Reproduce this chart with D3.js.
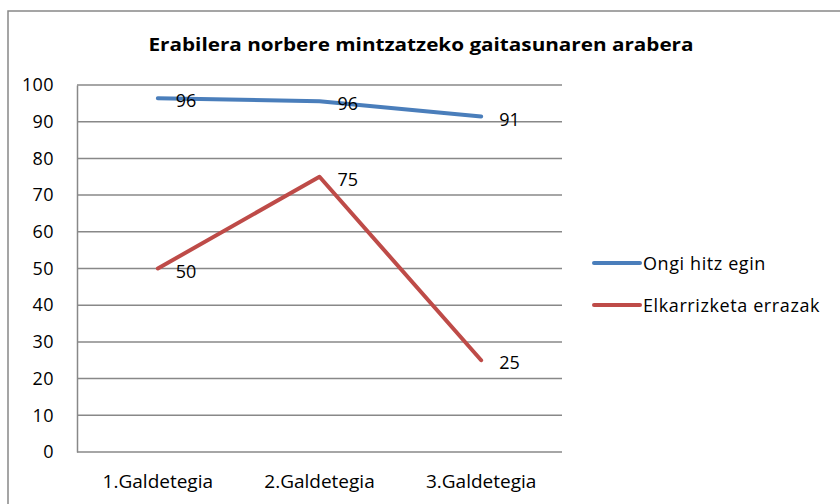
<!DOCTYPE html>
<html>
<head>
<meta charset="utf-8">
<script src="https://cdn.jsdelivr.net/npm/d3@7"></script>
<style>
html,body{margin:0;padding:0;background:#fff;}
svg{display:block;font-family:"Open Sans","Liberation Sans",sans-serif;}
</style>
</head>
<body>
<svg id="chart" width="840" height="504"></svg>
<script>
const title = "Erabilera norbere mintzatzeko gaitasunaren arabera";
const categories = ["1.Galdetegia", "2.Galdetegia", "3.Galdetegia"];
const seriesNames = ["Ongi hitz egin", "Elkarrizketa errazak"];
const ongiValues = [96.4, 95.6, 91.4];
const elkarValues = [50, 75, 25];
const seriesColors = ["#4a7ebb", "#be4b48"];
const yTicks = [0, 10, 20, 30, 40, 50, 60, 70, 80, 90, 100];

const series = [
  {name: seriesNames[0], values: ongiValues, color: seriesColors[0]},
  {name: seriesNames[1], values: elkarValues, color: seriesColors[1]}
];

const svg = d3.select("#chart");
const m = {left: 77, right: 562, top: 85, bottom: 452};
const FONT = "'Open Sans','Liberation Sans',sans-serif";

// outer border
svg.append("rect").attr("x", 8).attr("y", 11).attr("width", 840).attr("height", 520)
  .attr("fill", "none").attr("stroke", "#888").attr("stroke-width", 1.5);

// title
svg.append("text").attr("x", 421).attr("y", 51).attr("text-anchor", "middle")
  .attr("font-size", 18).attr("font-weight", "bold").attr("fill", "#000")
  .attr("textLength", 545).attr("lengthAdjust", "spacingAndGlyphs")
  .text(title);

const x = d3.scaleBand().domain(categories).range([m.left, m.right]);
const y = d3.scaleLinear().domain([0, 100]).range([m.bottom, m.top]);

// gridlines
svg.append("g").selectAll("line").data(yTicks).join("line")
  .attr("x1", m.left).attr("x2", m.right)
  .attr("y1", d => y(d)).attr("y2", d => y(d))
  .attr("stroke", "#888").attr("stroke-width", 1.5);

// y axis
const yAxis = svg.append("g").attr("transform", `translate(${m.left},0)`)
  .call(d3.axisLeft(y).tickValues(yTicks).tickSize(0).tickPadding(23));
yAxis.select(".domain").attr("stroke", "#888").attr("stroke-width", 1.5);
yAxis.selectAll("text").attr("font-size", 18).attr("fill", "#000")
  .attr("letter-spacing", 0.4).attr("font-family", FONT);

// x axis
const xAxis = svg.append("g").attr("transform", `translate(0,${m.bottom})`)
  .call(d3.axisBottom(x).tickSize(0).tickPadding(23));
xAxis.select(".domain").remove();
xAxis.selectAll("text").attr("font-size", 19).attr("fill", "#000")
  .attr("font-family", FONT);

const cx = c => x(c) + x.bandwidth() / 2;
const line = d3.line().x((d, i) => cx(categories[i])).y(d => y(d));

series.forEach(s => {
  svg.append("path").datum(s.values).attr("d", line)
    .attr("fill", "none").attr("stroke", s.color).attr("stroke-width", 4)
    .attr("stroke-linecap", "round").attr("stroke-linejoin", "round");
});

series.forEach(s => {
  svg.append("g").selectAll("text").data(s.values).join("text")
    .attr("x", (d, i) => cx(categories[i]) + 18)
    .attr("y", d => y(d) + 9)
    .attr("font-size", 18).attr("fill", "#000")
    .text(d => d3.format(".0f")(d));
});

// legend
const legend = svg.append("g");
series.forEach((s, i) => {
  const ly = 263 + i * 42;
  legend.append("line").attr("x1", 594).attr("x2", 640).attr("y1", ly).attr("y2", ly)
    .attr("stroke", s.color).attr("stroke-width", 4).attr("stroke-linecap", "round");
  legend.append("text").attr("x", 643).attr("y", ly + 6.5)
    .attr("font-size", 18).attr("letter-spacing", 0.6).attr("fill", "#000").text(s.name);
});
</script>
</body>
</html>
